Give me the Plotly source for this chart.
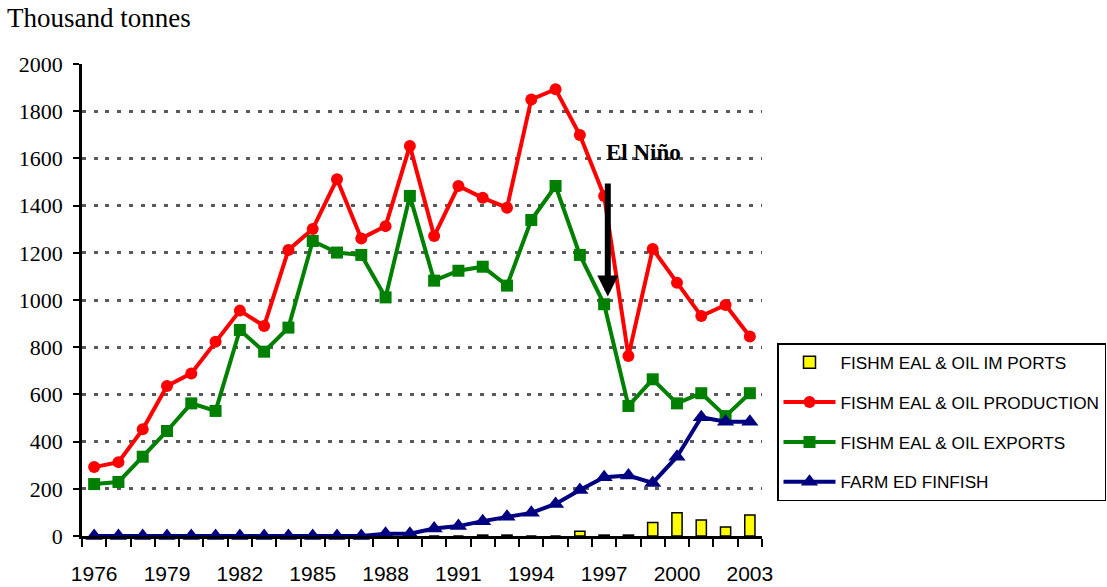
import plotly.graph_objects as go

years = list(range(1976, 2004))

production = [292, 313, 452, 636, 689, 823, 955, 890, 1212, 1301, 1512, 1261, 1313, 1653,
              1271, 1483, 1433, 1391, 1850, 1893, 1699, 1441, 763, 1216, 1073, 932, 979, 845]
exports = [220, 229, 336, 445, 562, 530, 873, 781, 883, 1250, 1201, 1191, 1011, 1441,
           1082, 1124, 1141, 1061, 1339, 1483, 1191, 982, 551, 664, 562, 605, 508, 605]
finfish = [0, 0, 0, 0, 0, 0, 0, 0, 0, 0, 0, 0, 10, 10,
           32, 42, 63, 82, 98, 136, 195, 249, 256, 225, 336, 503, 484, 484]
imports = [0, 0, 0, 0, 0, 0, 0, 0, 0, 0, 0, 0, 0, 0,
           0, 0, 4, 4, 0, 0, 20, 4, 4, 57, 98, 68, 38, 89]

tick_labels = [1976, 1979, 1982, 1985, 1988, 1991, 1994, 1997, 2000, 2003]

W, H = 1107, 587
L, T, R, B = 82, 64, 345, 51
PW, PH = W - L - R, H - T - B

SANS = "Liberation Sans, Arial"
SERIF = "Liberation Serif, Times New Roman"

fig = go.Figure()

fig.add_trace(go.Bar(
    x=years, y=imports, name="FISHM EAL & OIL IM PORTS",
    marker=dict(color="#FFFF00", line=dict(color="black", width=1.5)),
    width=0.42, legendgroup="a"))
fig.add_trace(go.Scatter(
    x=years, y=production, name="FISHM EAL & OIL PRODUCTION", mode="lines+markers",
    line=dict(color="#FF0000", width=4), marker=dict(symbol="circle", size=12, color="#FF0000"),
    cliponaxis=False, legendgroup="b"))
fig.add_trace(go.Scatter(
    x=years, y=exports, name="FISHM EAL & OIL EXPORTS", mode="lines+markers",
    line=dict(color="#008000", width=4), marker=dict(symbol="square", size=12, color="#008000"),
    cliponaxis=False, legendgroup="c"))
fig.add_trace(go.Scatter(
    x=years, y=finfish, name="FARM ED FINFISH", mode="lines+markers",
    line=dict(color="#000080", width=4), marker=dict(symbol="triangle-up", size=15, color="#000080"),
    cliponaxis=False, legendgroup="d"))

fig.add_annotation(x=1997.15, y=1015, ax=1997.15, ay=1500, axref="x", ayref="y",
                   xref="x", yref="y", text="", showarrow=True,
                   arrowhead=2, arrowsize=0.7, arrowwidth=6, arrowcolor="black")
fig.add_annotation(x=1998.6, y=1626, xref="x", yref="y", text="<b>El Niño</b>",
                   showarrow=False, font=dict(family=SERIF, size=23, color="black"))
fig.add_annotation(x=(8 - L) / PW, y=1 + (T - 18) / PH, xref="paper", yref="paper",
                   text="Thousand tonnes", showarrow=False, xanchor="left", yanchor="middle",
                   xshift=-3, font=dict(family=SERIF, size=27, color="black"))

fig.update_layout(
    width=W, height=H,
    margin=dict(l=L, r=R, t=T, b=B),
    paper_bgcolor="white", plot_bgcolor="white",
    showlegend=True,
    legend=dict(xref="container", yref="container",
                x=777 / W, y=1 - 343 / H, xanchor="left", yanchor="top",
                bordercolor="black", borderwidth=1.5, bgcolor="white",
                font=dict(family=SANS, size=17.2, color="black"),
                traceorder="grouped", tracegroupgap=14.5, itemwidth=52),
    xaxis=dict(range=[1975.5, 2003.5], tickvals=tick_labels, ticktext=[str(t) for t in tick_labels],
               ticks="", showline=True, linecolor="black", linewidth=2.5, showgrid=False,
               zeroline=False, ticklabelstandoff=17, automargin=False,
               tickfont=dict(family=SANS, size=21, color="black"),
               minor=dict(tick0=1975.5, dtick=1, ticks="outside", ticklen=8, tickwidth=2,
                          tickcolor="black", showgrid=False)),
    yaxis=dict(range=[0, 2000], tickvals=list(range(0, 2001, 200)), ticks="outside",
               ticklen=6, tickwidth=2, tickcolor="black", showline=True, linecolor="black",
               linewidth=2.5, showgrid=True, gridcolor="#5a5a5a", gridwidth=3,
               griddash="4px,7.7px", zeroline=False, ticklabelstandoff=6, automargin=False,
               tickfont=dict(family=SERIF, size=22, color="black")),
    bargap=0.5,
)

fig.write_html("out.html", config={"displayModeBar": False},
               post_script="document.body.style.margin='0';")
